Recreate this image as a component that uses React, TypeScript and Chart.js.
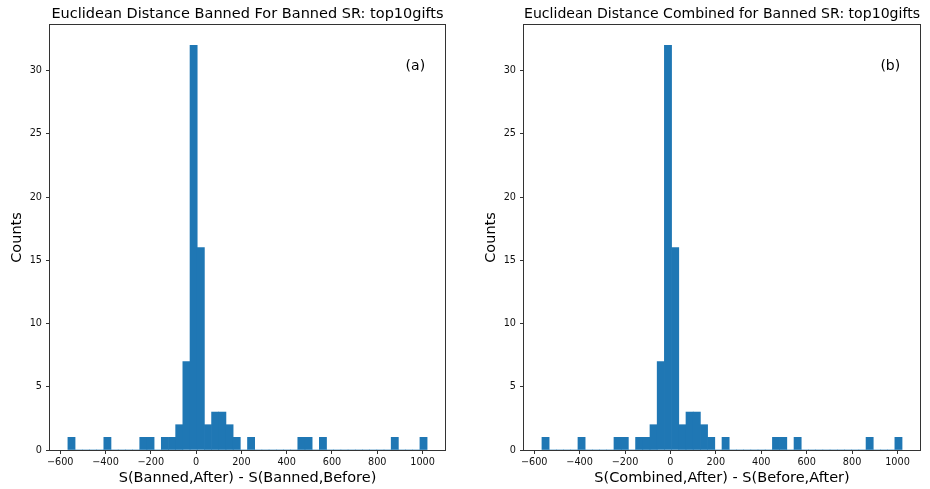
import React, { useEffect, useRef } from 'react';
import { Chart, registerables } from 'chart.js';
Chart.register(...registerables);

// Histogram counts (50 equal bins between HIST_MIN and HIST_MAX)
const countsA = [1,0,0,0,0, 1,0,0,0,0, 1,1,0,1,1, 2,7,32,16,2, 3,3,2,1,0, 1,0,0,0,0, 0,0,1,1,0, 1,0,0,0,0, 0,0,0,0,0, 1,0,0,0,1];
const countsB = [1,0,0,0,0, 1,0,0,0,0, 1,1,0,1,1, 2,7,32,16,2, 3,3,2,1,0, 1,0,0,0,0, 0,0,1,1,0, 1,0,0,0,0, 0,0,0,0,0, 1,0,0,0,1];
const HIST_MIN = -566;
const HIST_MAX = 1020;
const xTicks = [-600, -400, -200, 0, 200, 400, 600, 800, 1000];
const yTicks = [0, 5, 10, 15, 20, 25, 30];
const X_MIN = -645;
const X_MAX = 1099;
const Y_MAX = 33.6;
const titles = ['Euclidean Distance Banned For Banned SR: top10gifts', 'Euclidean Distance Combined for Banned SR: top10gifts'];
const xLabels = ['S(Banned,After) - S(Banned,Before)', 'S(Combined,After) - S(Before,After)'];
const panelLabels = ['(a)', '(b)'];

const FONT = "'DejaVu Sans', sans-serif";
const BAR = '#1f77b4';

type PanelProps = { counts: number[]; title: string; xLabel: string; panelLabel: string; left: number; width: number; padRight: number };

function Panel({ counts, title, xLabel, panelLabel, left, width, padRight }: PanelProps) {
  const ref = useRef<HTMLCanvasElement | null>(null);
  useEffect(() => {
    if (!ref.current) return;
    const n = counts.length;
    const w = (HIST_MAX - HIST_MIN) / n;
    const pts = counts.map((c, i) => ({ x: HIST_MIN + w * (i + 0.5), y: c }));
    const framePlugin = {
      id: 'frame',
      afterDraw(chart: any) {
        const { ctx, chartArea } = chart;
        const { left: l, right: r, top: t, bottom: b } = chartArea;
        ctx.save();
        ctx.strokeStyle = '#333';
        ctx.lineWidth = 1;
        ctx.strokeRect(Math.round(l) - 0.5, Math.round(t) - 0.5, Math.round(r) - Math.round(l) + 1, Math.round(b) - Math.round(t) + 1);
        ctx.fillStyle = '#000';
        ctx.font = `14px ${FONT}`;
        ctx.textAlign = 'center';
        ctx.textBaseline = 'middle';
        ctx.fillText(panelLabel, l + (r - l) * 0.925, 66);
        ctx.restore();
      },
    };
    const chart = new Chart(ref.current, {
      type: 'bar',
      data: {
        datasets: [{
          data: pts as any,
          backgroundColor: BAR,
          borderWidth: 0,
          barPercentage: 1,
          categoryPercentage: 1,
          grouped: false,
        }],
      },
      options: {
        animation: false,
        responsive: false,
        layout: { padding: { left: 0, right: padRight, top: 0, bottom: 0 } },
        plugins: {
          legend: { display: false },
          tooltip: { enabled: false },
          title: {
            display: true,
            text: title,
            fullSize: false,
            color: '#000',
            font: { family: FONT, size: 14.5, weight: 'normal' },
            padding: { top: 5.6, bottom: 2 },
          },
        },
        scales: {
          x: {
            type: 'linear',
            min: X_MIN,
            max: X_MAX,
            offset: false,
            grid: { display: true, drawOnChartArea: false, drawTicks: true, tickLength: 4, tickColor: '#333', offset: false },
            border: { display: false },
            ticks: {
              color: '#111',
              font: { family: FONT, size: 9.7 },
              padding: 2.5,
              autoSkip: false,
              maxRotation: 0,
              callback: (v: any) => (Number(v) < 0 ? '\u2212' + Math.abs(Number(v)) : String(v)),
            },
            afterBuildTicks: (s: any) => { s.ticks = xTicks.map((v) => ({ value: v })); },
            afterFit: (s: any) => { s.height = 39; },
            title: { display: true, text: xLabel, color: '#000', font: { family: FONT, size: 14.5 }, padding: { top: 0, bottom: 2.3 } },
          },
          y: {
            type: 'linear',
            min: 0,
            max: Y_MAX,
            grid: { display: true, drawOnChartArea: false, drawTicks: true, tickLength: 4, tickColor: '#333' },
            border: { display: false },
            ticks: { color: '#111', font: { family: FONT, size: 9.7 }, padding: 4, autoSkip: false },
            afterBuildTicks: (s: any) => { s.ticks = yTicks.map((v) => ({ value: v })); },
            afterFit: (s: any) => { s.width = 50; },
            title: { display: true, text: 'Counts', color: '#000', font: { family: FONT, size: 14.5 }, padding: { top: 8.8, bottom: 0 } },
          },
        },
      } as any,
      plugins: [framePlugin],
    });
    return () => chart.destroy();
  }, [counts, title, xLabel, panelLabel, padRight]);
  return (
    <canvas ref={ref} width={width} height={489} style={{ position: 'absolute', left, top: 0, width, height: 489 }} />
  );
}

export default function App() {
  return (
    <div style={{ position: 'absolute', left: 0, top: 0, width: 930, height: 489, background: '#fff' }}>
      <Panel counts={countsA} title={titles[0]} xLabel={xLabels[0]} panelLabel={panelLabels[0]} left={0} width={465} padRight={20} />
      <Panel counts={countsB} title={titles[1]} xLabel={xLabels[1]} panelLabel={panelLabels[1]} left={474} width={456} padRight={10} />
    </div>
  );
}
